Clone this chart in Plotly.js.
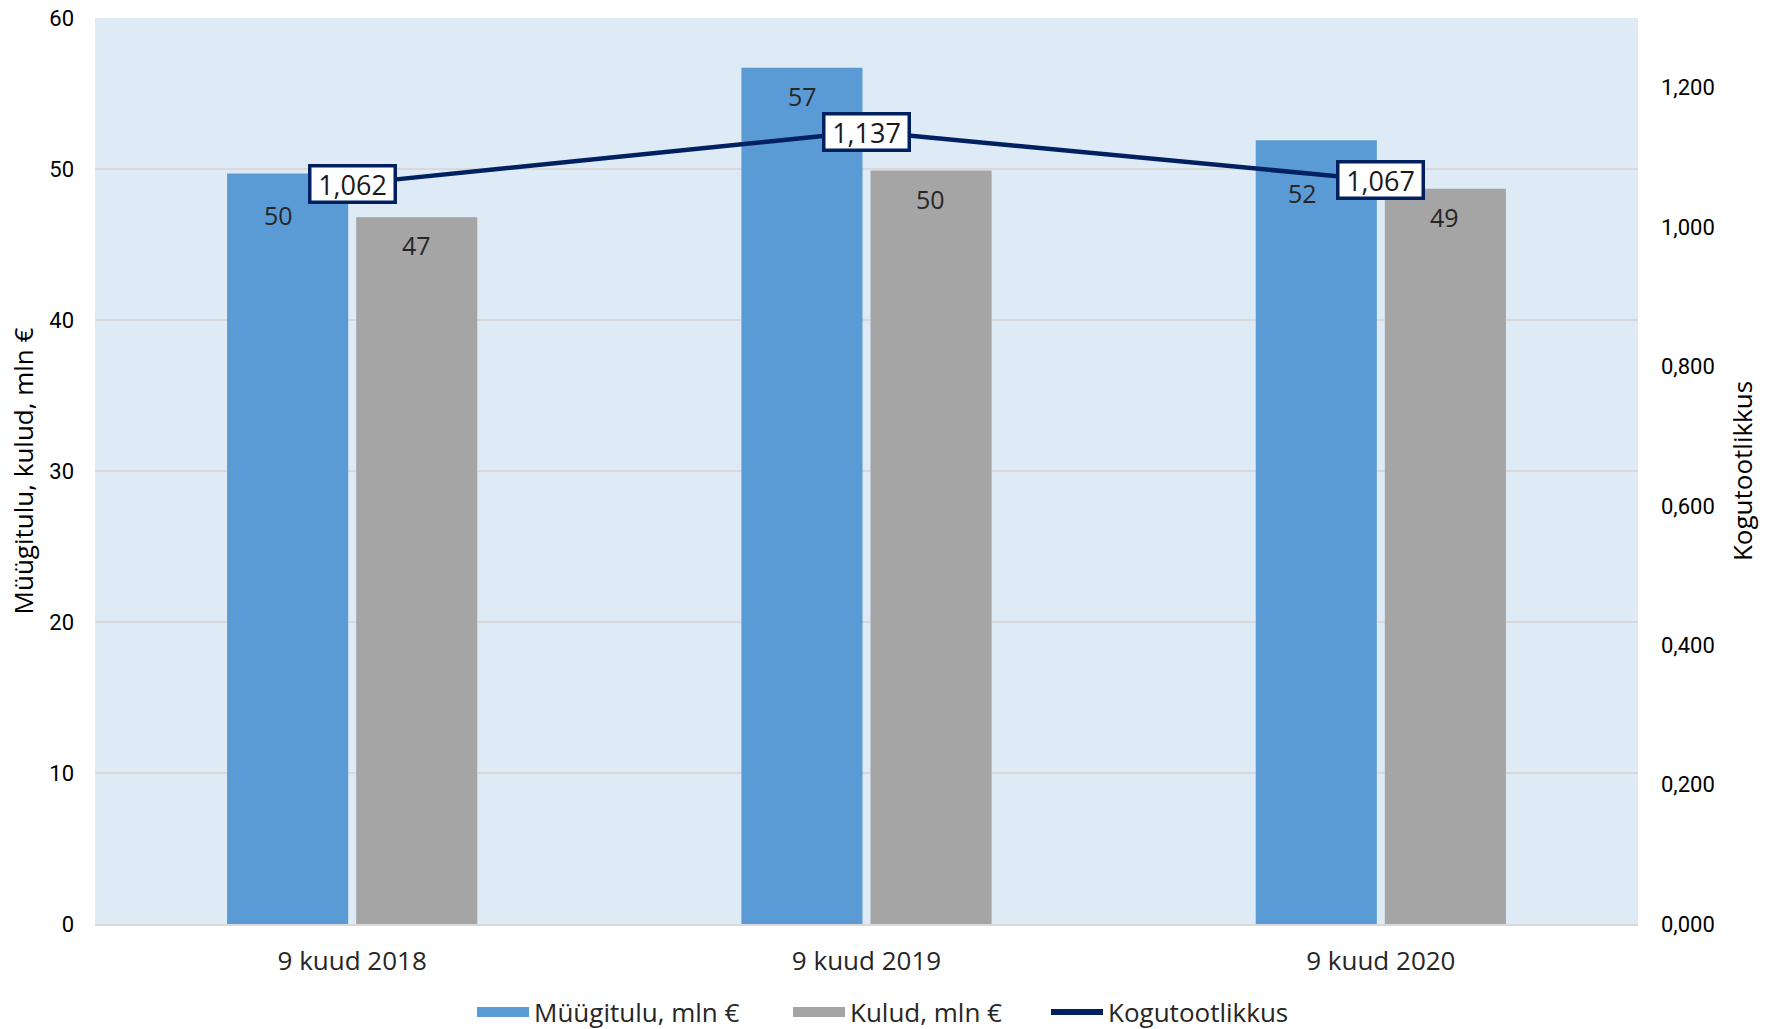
<!DOCTYPE html>
<html>
<head>
<meta charset="utf-8">
<script src="https://cdn.plot.ly/plotly-3.0.1.min.js"></script>
<style>html,body{margin:0;padding:0;background:#fff;}#chart{width:1767px;height:1029px;}</style>
</head>
<body>
<div id="chart"></div>
<script>
var categories = ["9 kuud 2018", "9 kuud 2019", "9 kuud 2020"];
var muugitulu = [49.7, 56.7, 51.9];
var kulud = [46.8, 49.9, 48.7];
var kogutootlikkus = [1.062, 1.137, 1.067];
var leftTicks = [0, 10, 20, 30, 40, 50, 60];
var rightTicks = [0, 0.2, 0.4, 0.6, 0.8, 1.0, 1.2];

// label placement styling (pixel offsets relative to bar tops)
var blueLabelYShift = [-41, -28, -53];
var blueLabelXShift = [-74, -64, -78];
var grayLabelYShift = [-28, -28, -28];

var FAMILY = "'Open Sans', Lato, sans-serif";
var labelFont = {family: FAMILY, size: 25, color: "#262626"};
var tickFont = {family: "Roboto, sans-serif", size: 22, color: "#000000"};
var legendFont = {family: FAMILY, size: 26, color: "#262626"};

var traces = [
  {type: "bar", name: "Müügitulu, mln €", x: categories, y: muugitulu,
   marker: {color: "#5B9BD5"}, hoverinfo: "skip", showlegend: false},
  {type: "bar", name: "Kulud, mln €", x: categories, y: kulud,
   marker: {color: "#A5A5A5"}, hoverinfo: "skip", showlegend: false},
  {type: "scatter", mode: "lines", name: "Kogutootlikkus", x: categories, y: kogutootlikkus,
   yaxis: "y2", line: {color: "#002060", width: 4.5}, hoverinfo: "skip", showlegend: false},
  // legend swatches
  {type: "scatter", mode: "lines", name: "Müügitulu, mln €", x: [null], y: [null],
   legend: "legend", line: {color: "#5B9BD5", width: 13}},
  {type: "scatter", mode: "lines", name: "Kulud, mln €", x: [null], y: [null],
   legend: "legend2", line: {color: "#A5A5A5", width: 13}},
  {type: "scatter", mode: "lines", name: "Kogutootlikkus", x: [null], y: [null],
   legend: "legend3", line: {color: "#002060", width: 6}}
];

var annotations = [];
function fmt(v, d) { return v.toFixed(d).replace(".", ","); }
categories.forEach(function (c, i) {
  annotations.push({x: c, y: muugitulu[i], xref: "x", yref: "y", text: fmt(muugitulu[i], 0),
    showarrow: false, xshift: blueLabelXShift[i], yshift: blueLabelYShift[i], font: labelFont});
  annotations.push({x: c, y: kulud[i], xref: "x", yref: "y", text: fmt(kulud[i], 0),
    showarrow: false, xshift: 64, yshift: grayLabelYShift[i], font: labelFont});
  annotations.push({x: c, y: kogutootlikkus[i], xref: "x", yref: "y2", text: fmt(kogutootlikkus[i], 3),
    showarrow: false, bgcolor: "#ffffff", bordercolor: "#002060", borderwidth: 3.5, borderpad: 1,
    width: 80, height: 31, align: "center", valign: "middle",
    font: {family: FAMILY, size: 27, color: "#1a1a1a"}});
});

function legendAt(xpx) {
  return {orientation: "h", x: xpx / 1767, xanchor: "left", xref: "container",
    y: 0.0165, yanchor: "middle", yref: "container", font: legendFont,
    itemwidth: 52, bgcolor: "rgba(0,0,0,0)"};
}

var layout = {
  width: 1767, height: 1029,
  margin: {l: 95, r: 129, t: 18, b: 105},
  paper_bgcolor: "#ffffff",
  plot_bgcolor: "#DEEAF6",
  separators: ",.",
  barmode: "group",
  bargap: 0.498,
  bargroupgap: 0.062,
  showlegend: true,
  legend: legendAt(472),
  legend2: legendAt(788),
  legend3: legendAt(1046),
  xaxis: {type: "category", tickfont: {family: FAMILY, size: 26, color: "#262626"},
    showline: true, linecolor: "#D9D9D9", linewidth: 2, ticks: "", showgrid: false,
    ticklabelstandoff: 13},
  yaxis: {range: [0, 60], tickvals: leftTicks, tickfont: tickFont, showgrid: true,
    gridcolor: "#D9D9D9", gridwidth: 1.5, zeroline: false, showline: false, ticks: "",
    ticklabelstandoff: 20,
    title: {text: "Müügitulu, kulud, mln €", standoff: 8,
      font: {family: FAMILY, size: 26, color: "#000000"}}},
  yaxis2: {overlaying: "y", side: "right", range: [0, 1.3], tickvals: rightTicks, tickformat: ".3f",
    tickfont: tickFont, showgrid: false, zeroline: false, showline: false, ticks: "",
    ticklabelstandoff: 22,
    title: {text: "Kogutootlikkus", standoff: 20,
      font: {family: FAMILY, size: 26, color: "#000000"}}},
  annotations: annotations
};

Plotly.newPlot("chart", traces, layout, {displayModeBar: false, staticPlot: true});
</script>
</body>
</html>
